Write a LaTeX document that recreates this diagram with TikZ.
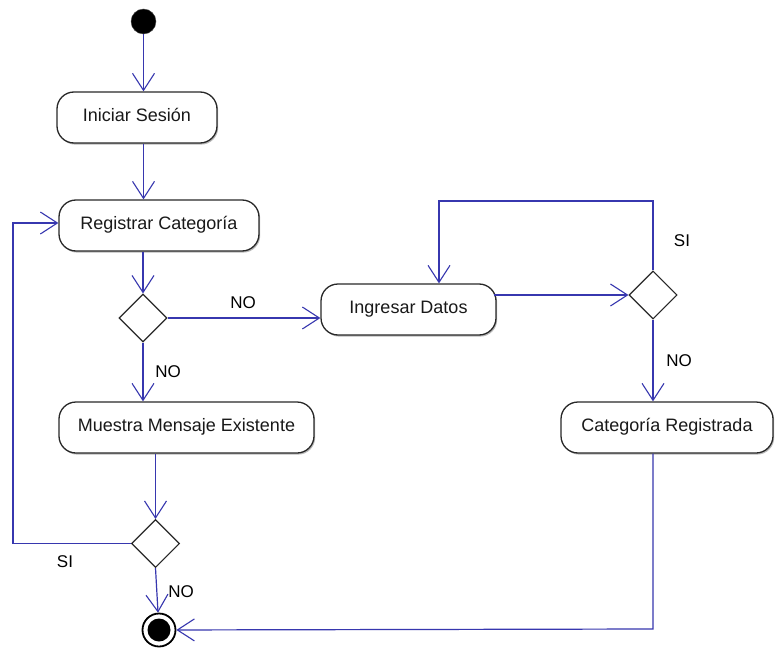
\documentclass[tikz,border=0pt]{standalone}
\usepackage{fontspec}
\setmainfont{Liberation Sans}
\usetikzlibrary{arrows.meta,shapes.geometric,shadows}

\definecolor{linkblue}{RGB}{55,55,175}
\definecolor{edgegray}{RGB}{40,40,40}

\newcommand{\actfont}{\fontsize{18}{20}\selectfont}
\newcommand{\lblfont}{\fontsize{17}{19}\selectfont}

\tikzset{
  action/.style={draw=edgegray, line width=1.3pt, fill=white, rounded corners=17pt,
    minimum height=51pt, inner sep=0pt, font=\actfont, text=black!90,
    text height=13pt, text depth=5pt,
    drop shadow={shadow xshift=1.2pt, shadow yshift=-1.6pt, fill=black!45, opacity=0.6}},
  decision/.style={diamond, draw=edgegray, line width=1.1pt, fill=white,
    minimum width=48pt, minimum height=48pt, inner sep=0pt},
  flow/.style={draw=linkblue, line width=1.2pt,
    -{Straight Barb[length=17pt,width=22pt,line width=1.1pt]}},
  guard/.style={font=\lblfont, text=black, inner sep=0pt},
}

\begin{document}
\begin{tikzpicture}[x=1pt,y=-1pt]
  \useasboundingbox[fill=white] (0,0) rectangle (776,650);

  % initial and final states
  \node[circle, fill=black, draw=black!70, minimum size=25pt, inner sep=0pt] (start) at (143.5,21.5) {};
  \node[circle, draw=black, line width=1.8pt, fill=white, minimum size=33pt, inner sep=0pt] (end) at (159,630) {};
  \fill[black] (end.center) circle[radius=11.5pt];

  % actions
  \node[action, minimum width=160pt] (iniciar)   at (137,117.5)   {Iniciar Sesión};
  \node[action, minimum width=200pt] (registrar) at (159,225.5)   {Registrar Categoría};
  \node[action, minimum width=175pt] (ingresar)  at (408.5,309.5) {Ingresar Datos};
  \node[action, minimum width=255pt] (muestra)   at (186.5,427.5) {Muestra Mensaje Existente};
  \node[action, minimum width=212pt] (catreg)    at (667,427.5)   {Categoría Registrada};

  % decisions
  \node[decision] (d1) at (143,318) {};
  \node[decision] (d2) at (653,295) {};
  \node[decision] (d3) at (155.5,543.5) {};

  % bend points of the loops
  \coordinate (loopA) at (439,201);
  \coordinate (loopB) at (13,223);
  \coordinate (turn)  at (653,629);

  % main flow
  \draw[flow] (start) -- (start |- iniciar.north);
  \draw[flow] (iniciar.south -| start) -- (registrar.north -| start);
  \draw[flow] (registrar.south -| d1) -- (d1.north);
  \draw[flow] (d1.east) -- (d1.east -| ingresar.west);
  \draw[flow] (d1.south) -- (d1.south |- muestra.north);
  \draw[flow] ([xshift=-3pt]ingresar.east |- d2) -- (d2.west);
  \draw[flow] (d2.north) |- (loopA) -- (loopA |- ingresar.north);
  \draw[flow] (d2.south) -- (d2.south |- catreg.north);
  \draw[flow] (catreg.south -| d2) -- (turn) -- (end);
  \draw[flow] (muestra.south -| d3) -- (d3.north);
  \draw[flow] (d3.west) -| (loopB) -- (loopB -| registrar.west);
  \draw[flow] (d3.south) -- (end);

  % guards
  \node[guard] (g1) at (243,303) {NO};
  \node[guard] (g2) at (168,372) {NO};
  \node[guard] (g3) at (682,241) {SI};
  \node[guard] (g4) at (679,361) {NO};
  \node[guard] (g5) at (65,562)  {SI};
  \node[guard] (g6) at (181,592) {NO};
\end{tikzpicture}
\end{document}
